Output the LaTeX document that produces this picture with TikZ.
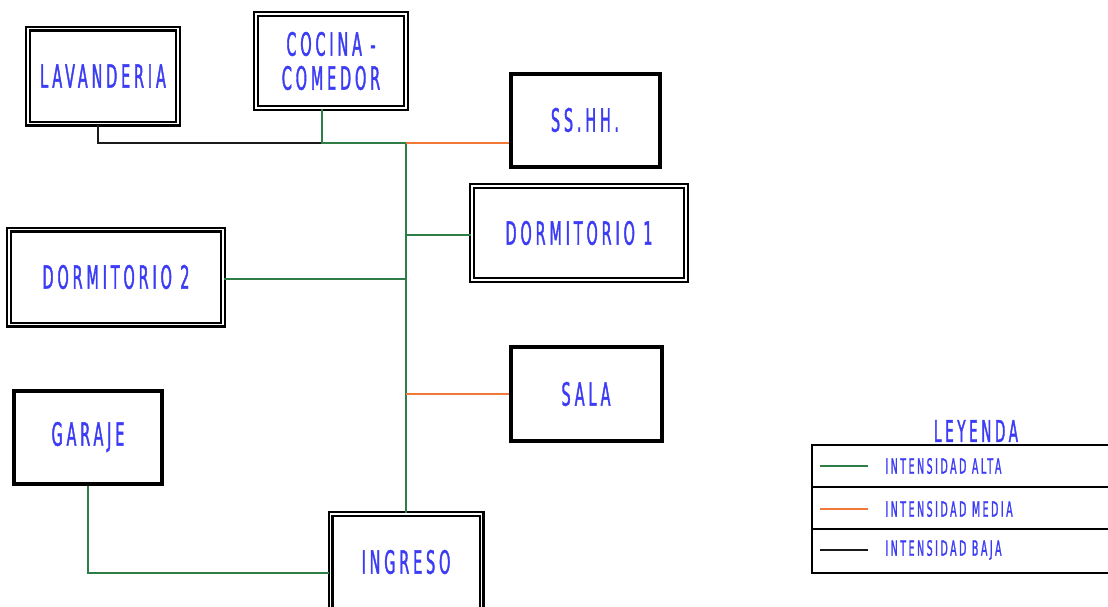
\documentclass[tikz,border=0pt]{standalone}
\usepackage{fontspec}
\usepackage{xcolor}
\usetikzlibrary{positioning}
\newfontfamily\cadfont[FakeStretch=0.45,LetterSpace=12,FakeBold=1.2]{DejaVu Sans}
\definecolor{CBlue}{HTML}{3C3CF5}
\definecolor{CGreen}{HTML}{2E7D46}
\definecolor{COrange}{HTML}{F07838}
\definecolor{CBlack}{HTML}{1A1A1A}

\begin{document}
\begin{tikzpicture}[
  x=0.5pt,y=-0.5pt,
  room/.style={draw=black,fill=white,line width=2pt,align=center,
    text=CBlue,font=\cadfont\fontsize{16}{17}\selectfont,inner sep=0pt},
  droom/.style={room,line width=1.1pt,double=white,double distance=0.8pt},
  alta/.style={draw=CGreen,line width=1pt},
  media/.style={draw=COrange,line width=1pt},
  baja/.style={draw=CBlack,line width=1pt},
  ley/.style={text=CBlue,font=\cadfont\fontsize{10.5}{12}\selectfont,anchor=west,inner sep=0pt}
]
  \useasboundingbox (0,0) rectangle (1108,606);
  % rooms
  \node[droom,minimum width=75pt,minimum height=47.5pt] (lav) at (103,76) {LAVANDERIA};
  \node[droom,minimum width=75pt,minimum height=47pt] (cocina) at (331,61) {COCINA -\\COMEDOR};
  \node[room,minimum width=74.5pt,minimum height=46.5pt] (sshh) at (585,120) {SS.HH.};
  \node[droom,minimum width=107pt,minimum height=47pt] (dorm1) at (579,233) {DORMITORIO 1};
  \node[droom,minimum width=107pt,minimum height=47.5pt] (dorm2) at (116,277) {DORMITORIO 2};
  \node[room,minimum width=75.5pt,minimum height=47pt] (sala) at (586,394) {SALA};
  \node[room,minimum width=74pt,minimum height=46.5pt] (garaje) at (88,437) {GARAJE};
  \node[droom,minimum width=75.5pt,minimum height=48pt] (ingreso) at (406,562) {INGRESO};
  % connections
  \coordinate (j0) at (322,143);
  \coordinate (j1) at (406,143);
  \draw[baja] ([xshift=-2.5pt]lav.south) |- (j0);
  \draw[alta] (cocina.south -| j0) -- (j0) -- (j1);
  \draw[alta] (ingreso.north) -- (j1);
  \draw[media] (j1) -- (j1 -| sshh.west);
  \draw[alta] ([yshift=-1pt]dorm1.west) -- ([yshift=-1pt]dorm1.west -| j1);
  \draw[alta] ([yshift=-1pt]dorm2.east) -- ([yshift=-1pt]dorm2.east -| j1);
  \draw[media] (sala.west) -- (sala.west -| j1);
  \draw[alta] (garaje.south) |- ([yshift=-5.5pt]ingreso.west);
  % legend
  \node[text=CBlue,font=\cadfont\fontsize{15}{17}\selectfont] (leyenda) at (976,431) {LEYENDA};
  \draw[line width=1pt] (1115,445) -- (812,445) -- (812,573) -- (1115,573);
  \draw[line width=1pt] (812,487) -- (1115,487);
  \draw[line width=1pt] (812,529) -- (1115,529);
  \coordinate (l1) at (820,466);
  \coordinate (l2) at (820,509);
  \coordinate (l3) at (820,550);
  \draw[alta] (l1) -- ++(48,0);
  \draw[media] (l2) -- ++(48,0);
  \draw[baja] (l3) -- ++(48,0);
  \node[ley] (t1) at (885,466) {INTENSIDAD ALTA};
  \node[ley] (t2) at (885,509) {INTENSIDAD MEDIA};
  \node[ley] (t3) at (885,550) {INTENSIDAD BAJA};
\end{tikzpicture}
\end{document}
